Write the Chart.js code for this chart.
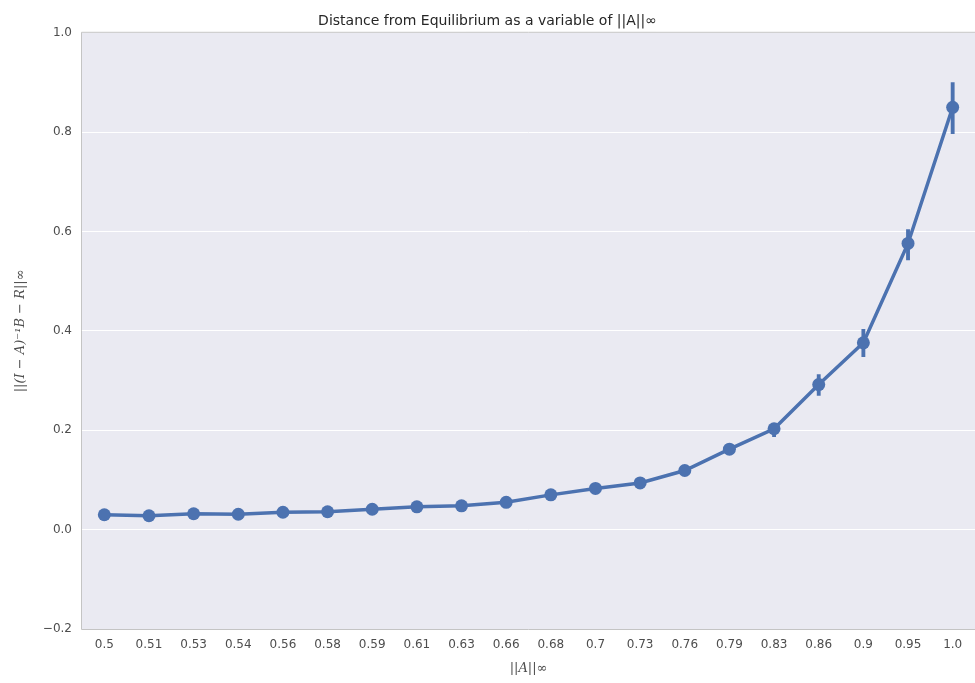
<!DOCTYPE html>
<html>
<head>
<meta charset="utf-8">
<script src="https://cdn.jsdelivr.net/npm/chart.js@4/dist/chart.umd.min.js"></script>
<style>
html,body{margin:0;padding:0;background:#fff;}
#wrap{width:975px;height:683px;}
</style>
</head>
<body>
<div id="wrap"><canvas id="c" width="975" height="683"></canvas></div>
<script>
const categories = ["0.5","0.51","0.53","0.54","0.56","0.58","0.59","0.61","0.63","0.66","0.68","0.7","0.73","0.76","0.79","0.83","0.86","0.9","0.95","1.0"];
const meanValues = [0.030,0.028,0.032,0.031,0.035,0.036,0.041,0.046,0.048,0.055,0.070,0.083,0.094,0.119,0.162,0.203,0.292,0.376,0.576,0.850];
const errLow  = [0.027,0.025,0.029,0.028,0.032,0.033,0.038,0.043,0.045,0.052,0.066,0.079,0.090,0.114,0.155,0.187,0.270,0.348,0.543,0.797];
const errHigh = [0.033,0.031,0.035,0.034,0.038,0.039,0.044,0.049,0.051,0.058,0.074,0.087,0.098,0.124,0.169,0.212,0.312,0.403,0.604,0.900];
const yTicks = [-0.2,0.0,0.2,0.4,0.6,0.8,1.0];

const blue = '#4C72B0';

const bgPlugin = {
  id:'bg',
  beforeDraw(chart){
    const {ctx, chartArea:a} = chart;
    ctx.save();
    ctx.fillStyle = '#EAEAF2';
    ctx.fillRect(a.left, a.top, a.right-a.left, a.bottom-a.top);
    ctx.restore();
  },
  afterDatasetsDraw(chart){
    const {ctx, chartArea:a} = chart;
    ctx.save();
    ctx.strokeStyle = '#c4c4c4';
    ctx.lineWidth = 1;
    ctx.beginPath();
    ctx.moveTo(a.right+1, a.top-0.5);
    ctx.lineTo(a.left-0.5, a.top-0.5);
    ctx.lineTo(a.left-0.5, a.bottom+0.5);
    ctx.lineTo(a.right+1, a.bottom+0.5);
    ctx.stroke();
    ctx.restore();
  }
};

new Chart(document.getElementById('c'), {
  data: {
    labels: categories,
    datasets: [
      {
        type:'line',
        data: meanValues,
        borderColor: blue,
        backgroundColor: blue,
        borderWidth: 3.5,
        pointRadius: 6.5,
        pointHoverRadius: 6.5,
        pointBorderWidth: 0,
        tension: 0,
        order: 1
      },
      {
        type:'bar',
        data: errLow.map((v,i)=>[v, errHigh[i]]),
        backgroundColor: blue,
        borderWidth: 0,
        barThickness: 3.2,
        order: 2
      }
    ]
  },
  options: {
    responsive:false,
    animation:false,
    devicePixelRatio:1,
    layout:{autoPadding:false, padding:{left:0,right:0,top:0,bottom:0}},
    plugins:{
      legend:{display:false},
      tooltip:{enabled:false},
      title:{
        display:true,
        text:'Distance from Equilibrium as a variable of ||A||∞',
        color:'#262626',
        font:{family:'"DejaVu Sans"', size:14, weight:'normal'},
        padding:{top:13, bottom:3}
      }
    },
    scales:{
      x:{
        type:'category',
        offset:true,
        grid:{display:false, drawTicks:false},
        border:{display:false},
        ticks:{color:'#4d4d4d', font:{family:'"DejaVu Sans"', size:12}, padding:9, maxRotation:0, autoSkip:false},
        title:{display:true, text:'||A||∞', color:'#4d4d4d', font:{family:'"DejaVu Serif"', size:13, style:'italic'}, padding:{top:2,bottom:7}},
        afterFit(s){ s.height = 54; s.paddingRight = 0; s.paddingLeft = 0; }
      },
      y:{
        min:-0.2, max:1.0,
        afterBuildTicks(s){ s.ticks = yTicks.map(v=>({value:v})); },
        grid:{color:'#ffffff', lineWidth:1, drawTicks:false},
        border:{display:false},
        ticks:{color:'#4d4d4d', font:{family:'"DejaVu Sans"', size:12}, padding:10,
          callback:(v)=> v.toFixed(1).replace('-', '\u2212')},
        title:{display:true, text:'||(I − A)⁻¹B − R||∞', color:'#4d4d4d', font:{family:'"DejaVu Serif"', size:13, style:'italic'}, padding:{top:13,bottom:4}},
        afterFit(s){ s.width = 82; s.paddingTop = 0; s.paddingBottom = 0; }
      }
    }
  },
  plugins:[bgPlugin]
});
</script>
</body>
</html>
